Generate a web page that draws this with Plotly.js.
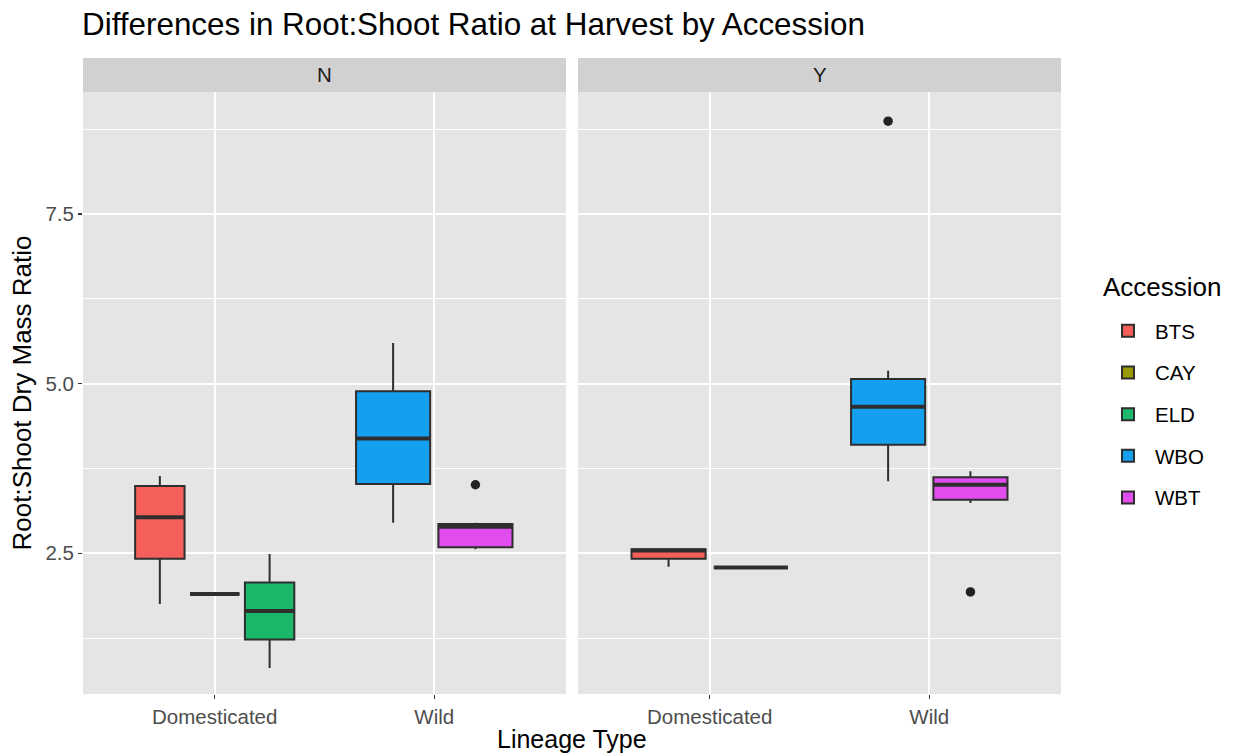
<!DOCTYPE html>
<html>
<head>
<meta charset="utf-8">
<script src="https://cdn.plot.ly/plotly-3.0.1.min.js"></script>
<style>html,body{margin:0;padding:0;background:#fff;}#chart{width:1236px;height:756px;}</style>
</head>
<body>
<div id="chart"></div>
<script>
// ---- data ----
const panels = ['N', 'Y'];
const lineages = ['Domesticated', 'Wild'];
const accessions = ['BTS', 'CAY', 'ELD', 'WBO', 'WBT'];

const groupPanel     = ['N', 'N', 'N', 'N', 'N', 'Y', 'Y', 'Y', 'Y'];
const groupLineage   = ['Domesticated', 'Domesticated', 'Domesticated', 'Wild', 'Wild', 'Domesticated', 'Domesticated', 'Wild', 'Wild'];
const groupAccession = ['BTS', 'CAY', 'ELD', 'WBO', 'WBT', 'BTS', 'CAY', 'WBO', 'WBT'];
const lowerWhisker   = [1.75, 1.90, 0.81, 2.95, 2.56, 2.30, 2.29, 3.56, 3.24];
const q1Values       = [2.42, 1.90, 1.23, 3.52, 2.59, 2.42, 2.29, 4.10, 3.29];
const medianValues   = [3.03, 1.90, 1.65, 4.19, 2.89, 2.54, 2.29, 4.66, 3.51];
const q3Values       = [3.49, 1.90, 2.07, 4.89, 2.93, 2.56, 2.29, 5.07, 3.62];
const upperWhisker   = [3.64, 1.90, 2.49, 5.60, 2.95, 2.57, 2.29, 5.19, 3.71];

const outlierPanel     = ['N', 'Y', 'Y'];
const outlierLineage   = ['Wild', 'Wild', 'Wild'];
const outlierAccession = ['WBT', 'WBO', 'WBT'];
const outlierValues    = [3.51, 8.87, 1.93];

const yTicks = [2.5, 5.0, 7.5];

// ---- styles ----
const accColors = ['#F45F5A', '#999A00', '#1BB86B', '#149FEF', '#E04CEE'];
const FONT = 'Liberation Sans, Arial, Helvetica, sans-serif';
const DODGE = 0.75, PAD = 0.1;
const EDGE = '#2E2E2E';

function axisFor(panel) { return panels.indexOf(panel) === 0 ? '' : String(panels.indexOf(panel) + 1); }

// dodge positions, like ggplot position_dodge2
function dodge(panel, lineage, acc) {
  const members = [];
  groupPanel.forEach((p, i) => { if (p === panel && groupLineage[i] === lineage) members.push(groupAccession[i]); });
  members.sort((a, b) => accessions.indexOf(a) - accessions.indexOf(b));
  const n = members.length, k = members.indexOf(acc);
  const slot = DODGE / n;
  const center = lineages.indexOf(lineage) + 1 - DODGE / 2 + (k + 0.5) * slot;
  return {center: center, width: slot * (1 - PAD)};
}

const traces = [];
const shown = {};
groupAccession.forEach((acc, i) => {
  const d = dodge(groupPanel[i], groupLineage[i], acc);
  const ax = axisFor(groupPanel[i]);
  const ci = accessions.indexOf(acc);
  traces.push({
    type: 'box',
    name: acc,
    legendgroup: acc,
    legendrank: ci + 1,
    showlegend: !shown[acc],
    x: [d.center],
    q1: [q1Values[i]], median: [medianValues[i]], q3: [q3Values[i]],
    lowerfence: [lowerWhisker[i]], upperfence: [upperWhisker[i]],
    width: d.width,
    whiskerwidth: 0,
    boxpoints: false,
    fillcolor: accColors[ci],
    line: {color: EDGE, width: 2},
    xaxis: 'x' + ax, yaxis: 'y',
    hoverinfo: 'skip'
  });
  shown[acc] = true;
});

// thick median lines (ggplot fatten) and outliers
panels.forEach(panel => {
  const mx = [], my = [];
  groupAccession.forEach((acc, i) => {
    if (groupPanel[i] !== panel) return;
    const d = dodge(panel, groupLineage[i], acc);
    mx.push(d.center - d.width / 2, d.center + d.width / 2, null);
    my.push(medianValues[i], medianValues[i], null);
  });
  traces.push({type: 'scatter', mode: 'lines', x: mx, y: my, line: {color: EDGE, width: 4},
    showlegend: false, hoverinfo: 'skip', xaxis: 'x' + axisFor(panel), yaxis: 'y'});
  const ox = [], oy = [];
  outlierValues.forEach((v, j) => {
    if (outlierPanel[j] !== panel) return;
    ox.push(dodge(panel, outlierLineage[j], outlierAccession[j]).center);
    oy.push(v);
  });
  traces.push({type: 'scatter', mode: 'markers', x: ox, y: oy, marker: {color: '#222222', size: 9.5},
    showlegend: false, hoverinfo: 'skip', xaxis: 'x' + axisFor(panel), yaxis: 'y'});
});

const xBase = {
  type: 'linear', range: [0.4, 2.6], tickvals: lineages.map((l, i) => i + 1), ticktext: lineages,
  showgrid: true, gridcolor: '#FFFFFF', gridwidth: 2, zeroline: false,
  ticks: 'outside', ticklen: 4, tickwidth: 1.5, tickcolor: '#333333',
  tickfont: {family: FONT, size: 20.5, color: '#4D4D4D'}, showline: false, fixedrange: true
};
const gapFrac = 12 / 978;
const layout = {
  width: 1236, height: 756,
  margin: {l: 83, r: 175, t: 92, b: 62},
  paper_bgcolor: '#FFFFFF', plot_bgcolor: '#E5E5E5',
  showlegend: true,
  boxmode: 'overlay',
  title: {text: 'Differences in Root:Shoot Ratio at Harvest by Accession', x: 82 / 1236, xanchor: 'left',
    xref: 'container', yref: 'container', y: 1 - 24 / 756, yanchor: 'middle',
    font: {family: FONT, size: 31.4, color: '#000000'}},
  xaxis: Object.assign({}, xBase, {domain: [0, 0.5 - gapFrac / 2], anchor: 'y'}),
  xaxis2: Object.assign({}, xBase, {domain: [0.5 + gapFrac / 2, 1], anchor: 'y'}),
  yaxis: {
    range: [0.425, 9.30], tickvals: yTicks, ticktext: yTicks.map(v => v.toFixed(1)),
    showgrid: true, gridcolor: '#FFFFFF', gridwidth: 2, zeroline: false,
    minor: {tickvals: yTicks.map(v => v - 1.25).concat([yTicks[yTicks.length - 1] + 1.25]), showgrid: true, gridcolor: '#FFFFFF', gridwidth: 1, ticks: ''},
    ticks: 'outside', ticklen: 4, tickwidth: 1.5, tickcolor: '#333333',
    tickfont: {family: FONT, size: 20.5, color: '#4D4D4D'},
    title: {text: 'Root:Shoot Dry Mass Ratio', font: {family: FONT, size: 26, color: '#000000'}, standoff: 6},
    fixedrange: true
  },
  legend: {
    x: 1101 / 1236, xref: 'container', y: (694 - 311) / 602, yanchor: 'top', xanchor: 'left',
    font: {family: FONT, size: 20.5, color: '#000000'},
    tracegroupgap: 12, bgcolor: 'rgba(0,0,0,0)', itemwidth: 44
  },
  shapes: panels.map((p, i) => ({
    type: 'rect', xref: 'x' + (i === 0 ? '' : i + 1) + ' domain', yref: 'paper',
    x0: 0, x1: 1, y0: 1, y1: 1 + 34 / 602, fillcolor: '#D1D1D1', line: {width: 0}, layer: 'below'
  })),
  annotations: panels.map((p, i) => ({
    text: p, xref: 'x' + (i === 0 ? '' : i + 1) + ' domain', yref: 'paper', x: 0.5, y: 1 + 17 / 602,
    xanchor: 'center', yanchor: 'middle', showarrow: false, font: {family: FONT, size: 20.5, color: '#1A1A1A'}
  })).concat([{
    text: 'Lineage Type', xref: 'paper', yref: 'paper', x: 0.5, y: -(739 - 694) / 602,
    xanchor: 'center', yanchor: 'middle', showarrow: false, font: {family: FONT, size: 25, color: '#000000'}
  }, {
    text: 'Accession', xref: 'paper', yref: 'paper', x: (1101 - 83) / 978, y: (694 - 287) / 602,
    xanchor: 'left', yanchor: 'middle', showarrow: false, font: {family: FONT, size: 26, color: '#000000'}
  }])
};

Plotly.newPlot('chart', traces, layout, {displayModeBar: false, staticPlot: true});
</script>
</body>
</html>
